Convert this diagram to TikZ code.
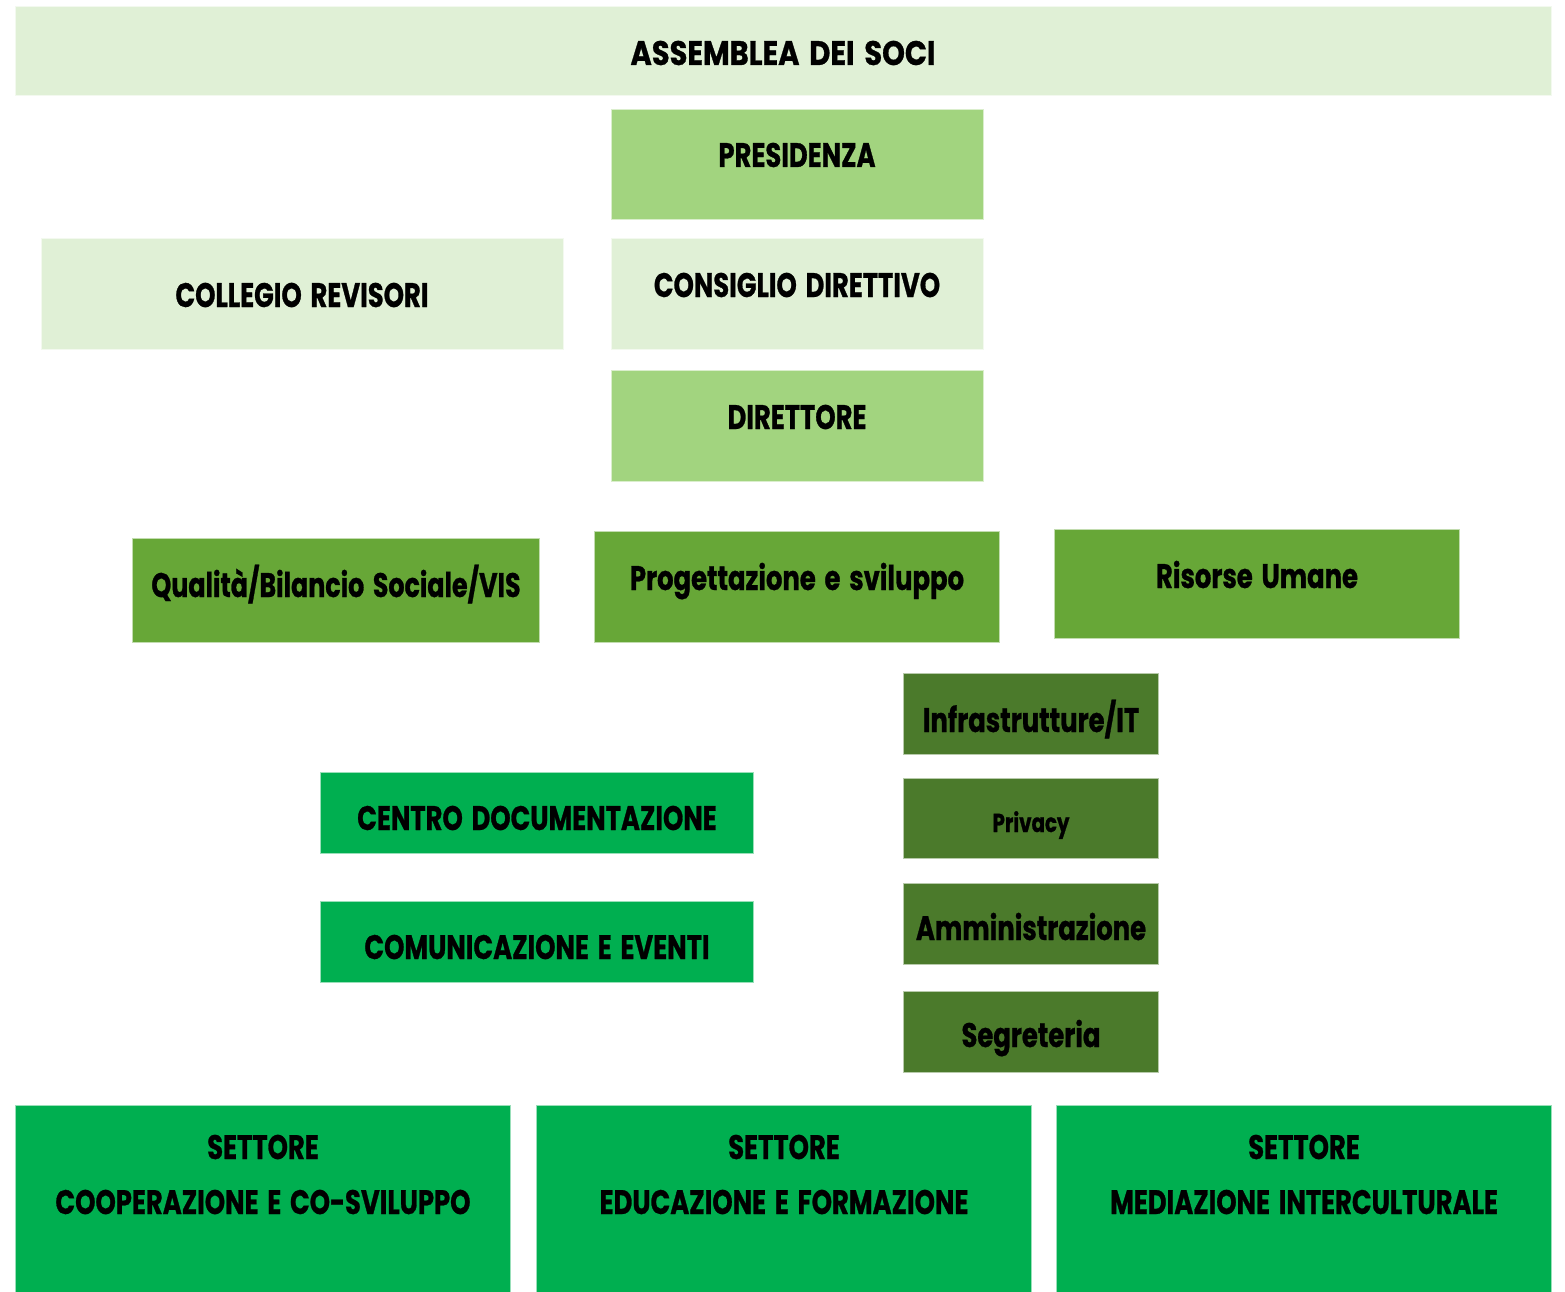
\documentclass[tikz,border=0pt]{standalone}
\usepackage{fontspec}
\setmainfont{Poppins}[BoldFont={* Bold},BoldFeatures={FakeStretch=0.76,WordSpace=1.6,FakeBold=0.8}]
\definecolor{cLight}{HTML}{E0F0D6}
\definecolor{cMid}{HTML}{A2D47F}
\definecolor{cGreen}{HTML}{67A737}
\definecolor{cDark}{HTML}{4B7A2B}
\definecolor{cBright}{HTML}{00AF50}
\tikzset{
  box/.style={draw=white!60!#1, line width=0.75pt, fill=#1},
  lbl/.style={anchor=base, inner sep=0pt, font=\bfseries\fontsize{25.5}{25.5}\selectfont},
  lbls/.style={anchor=base, inner sep=0pt, font=\bfseries\fontsize{19.5}{19.5}\selectfont},
}
\begin{document}
\begin{tikzpicture}[x=0.75pt,y=-0.75pt]
\useasboundingbox (0,0) rectangle (1565,1291);
% boxes
\path[box=cLight] (15,7) rectangle (1551,96);
\path[box=cMid] (611,110) rectangle (983,220);
\path[box=cLight] (611,238) rectangle (983,349);
\path[box=cLight] (41,238) rectangle (563,349);
\path[box=cMid] (611,370) rectangle (983,481);
\path[box=cGreen] (132,538) rectangle (539,642);
\path[box=cGreen] (594,531) rectangle (999,642);
\path[box=cGreen] (1054,529) rectangle (1459,638);
\path[box=cDark] (903,673) rectangle (1158,754);
\path[box=cDark] (903,778) rectangle (1158,858);
\path[box=cDark] (903,883) rectangle (1158,964);
\path[box=cDark] (903,991) rectangle (1158,1072);
\path[box=cBright] (320,772) rectangle (753,853);
\path[box=cBright] (320,901) rectangle (753,982);
\path[box=cBright] (15,1105) rectangle (510,1296);
\path[box=cBright] (536,1105) rectangle (1031,1296);
\path[box=cBright] (1056,1105) rectangle (1551,1296);
% labels
\node[lbl] (ass) at (783,65) {\scalebox{1.12}[1]{ASSEMBLEA DEI SOCI}};
\node[lbl] (pres) at (797,167) {PRESIDENZA};
\node[lbl] (cons) at (797,297) {CONSIGLIO DIRETTIVO};
\node[lbl] (coll) at (302,307) {COLLEGIO REVISORI};
\node[lbl] (dir) at (797,429) {DIRETTORE};
\node[lbl] (qual) at (336,597) {\scalebox{0.98}[1]{Qualità/Bilancio Sociale/VIS}};
\node[lbl] (prog) at (797,590) {Progettazione e sviluppo};
\node[lbl] (ris) at (1257,588) {Risorse Umane};
\node[lbl] (infra) at (1031,732) {Infrastrutture/IT};
\node[lbls] (priv) at (1031,832) {Privacy};
\node[lbl] (amm) at (1031,940) {Amministrazione};
\node[lbl] (seg) at (1031,1047) {Segreteria};
\node[lbl] (centro) at (537,830) {CENTRO DOCUMENTAZIONE};
\node[lbl] (com) at (537,959) {COMUNICAZIONE E EVENTI};
\node[lbl] (s1a) at (263,1159) {SETTORE};
\node[lbl] (s1b) at (263,1214) {COOPERAZIONE E CO-SVILUPPO};
\node[lbl] (s2a) at (784,1159) {SETTORE};
\node[lbl] (s2b) at (784,1214) {EDUCAZIONE E FORMAZIONE};
\node[lbl] (s3a) at (1304,1159) {SETTORE};
\node[lbl] (s3b) at (1304,1214) {MEDIAZIONE INTERCULTURALE};
\end{tikzpicture}
\end{document}
